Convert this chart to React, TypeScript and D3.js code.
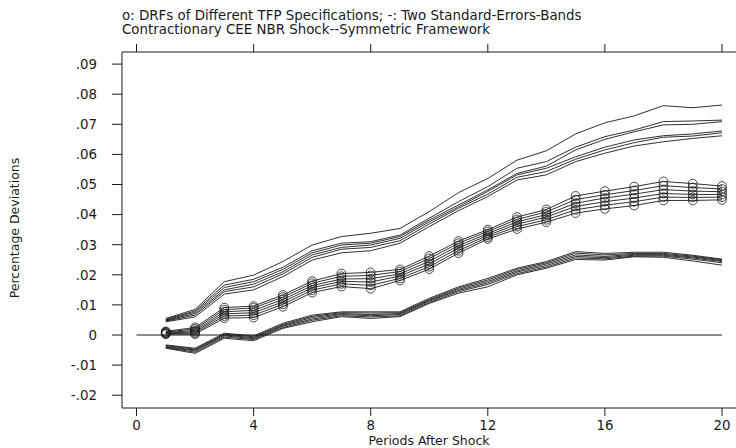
import React from "react";
import * as d3 from "d3";

const periods = [1,2,3,4,5,6,7,8,9,10,11,12,13,14,15,16,17,18,19,20];

const center1 = [0.0012,0.0025,0.0091,0.0096,0.0133,0.0179,0.0204,0.0208,0.0218,0.0262,0.0312,0.0350,0.0392,0.0417,0.0462,0.0478,0.0493,0.0510,0.0503,0.0495];
const center2 = [0.0010,0.0020,0.0084,0.0090,0.0126,0.0172,0.0195,0.0198,0.0211,0.0254,0.0305,0.0344,0.0384,0.0409,0.0450,0.0466,0.0480,0.0496,0.0490,0.0485];
const center3 = [0.0008,0.0015,0.0077,0.0082,0.0118,0.0164,0.0186,0.0187,0.0203,0.0245,0.0297,0.0337,0.0376,0.0400,0.0438,0.0455,0.0468,0.0483,0.0478,0.0476];
const center4 = [0.0006,0.0011,0.0070,0.0074,0.0110,0.0157,0.0178,0.0176,0.0196,0.0236,0.0289,0.0331,0.0368,0.0392,0.0427,0.0443,0.0455,0.0470,0.0467,0.0467];
const center5 = [0.0004,0.0007,0.0063,0.0066,0.0102,0.0149,0.0170,0.0165,0.0188,0.0227,0.0280,0.0325,0.0360,0.0383,0.0416,0.0431,0.0443,0.0458,0.0457,0.0458];
const center6 = [0.0003,0.0003,0.0056,0.0058,0.0094,0.0141,0.0161,0.0154,0.0181,0.0219,0.0272,0.0319,0.0352,0.0375,0.0405,0.0419,0.0430,0.0447,0.0447,0.0449];

const upper1 = [0.0055,0.0085,0.0177,0.0199,0.0244,0.0299,0.0327,0.0338,0.0354,0.0410,0.0473,0.0520,0.0581,0.0612,0.0668,0.0705,0.0728,0.0762,0.0755,0.0764];
const upper2 = [0.0052,0.0080,0.0166,0.0185,0.0225,0.0280,0.0305,0.0310,0.0332,0.0388,0.0443,0.0493,0.0554,0.0576,0.0624,0.0659,0.0681,0.0709,0.0711,0.0714];
const upper3 = [0.0050,0.0076,0.0158,0.0177,0.0218,0.0273,0.0299,0.0305,0.0327,0.0382,0.0432,0.0482,0.0537,0.0561,0.0615,0.0650,0.0675,0.0698,0.0700,0.0709];
const upper4 = [0.0048,0.0071,0.0150,0.0169,0.0210,0.0266,0.0291,0.0299,0.0321,0.0376,0.0426,0.0477,0.0532,0.0554,0.0592,0.0624,0.0648,0.0662,0.0668,0.0678];
const upper5 = [0.0046,0.0066,0.0144,0.0160,0.0203,0.0258,0.0285,0.0291,0.0313,0.0369,0.0421,0.0468,0.0524,0.0543,0.0584,0.0615,0.0639,0.0657,0.0661,0.0672];
const upper6 = [0.0044,0.0060,0.0136,0.0150,0.0194,0.0249,0.0273,0.0280,0.0305,0.0360,0.0413,0.0460,0.0515,0.0532,0.0576,0.0604,0.0628,0.0642,0.0653,0.0662];

const lower1 = [-0.0033,-0.0044,0.0006,-0.0003,0.0039,0.0066,0.0077,0.0077,0.0077,0.0122,0.0160,0.0188,0.0222,0.0244,0.0277,0.0271,0.0275,0.0275,0.0265,0.0252];
const lower2 = [-0.0035,-0.0047,0.0003,-0.0006,0.0035,0.0062,0.0074,0.0073,0.0074,0.0118,0.0156,0.0183,0.0218,0.0240,0.0272,0.0266,0.0271,0.0271,0.0262,0.0250];
const lower3 = [-0.0038,-0.0050,0.0000,-0.0009,0.0032,0.0058,0.0071,0.0068,0.0071,0.0115,0.0152,0.0178,0.0213,0.0236,0.0266,0.0261,0.0268,0.0268,0.0259,0.0247];
const lower4 = [-0.0040,-0.0053,-0.0003,-0.0012,0.0029,0.0053,0.0068,0.0064,0.0068,0.0112,0.0148,0.0173,0.0209,0.0231,0.0261,0.0257,0.0265,0.0265,0.0256,0.0244];
const lower5 = [-0.0042,-0.0057,-0.0007,-0.0015,0.0025,0.0049,0.0064,0.0060,0.0064,0.0108,0.0144,0.0168,0.0204,0.0226,0.0256,0.0253,0.0262,0.0262,0.0252,0.0240];
const lower6 = [-0.0044,-0.0061,-0.0011,-0.0019,0.0022,0.0044,0.0061,0.0055,0.0061,0.0105,0.0139,0.0160,0.0200,0.0222,0.0251,0.0249,0.0260,0.0258,0.0246,0.0232];

const centers = [center1, center2, center3, center4, center5, center6];
const bands = [upper1, upper2, upper3, upper4, upper5, upper6, lower1, lower2, lower3, lower4, lower5, lower6];

const xTicks = [0, 4, 8, 12, 16, 20];
const yTicks = [-0.02, -0.01, 0, 0.01, 0.02, 0.03, 0.04, 0.05, 0.06, 0.07, 0.08, 0.09];
const yTickLabels = ["-.02", "-.01", "0", ".01", ".02", ".03", ".04", ".05", ".06", ".07", ".08", ".09"];

const titleLine1 = "o: DRFs of Different TFP Specifications; -: Two Standard-Errors-Bands";
const titleLine2 = "Contractionary CEE NBR Shock--Symmetric Framework";
const xTitle = "Periods After Shock";
const yTitle = "Percentage Deviations";

export default function App() {
  const W = 736, H = 448;
  const boxL = 122, boxT = 52, boxB = 408;
  const x = d3.scaleLinear().domain([0, 20]).range([136.5, 722]);
  const y = d3.scaleLinear().domain([-0.02, 0.09]).range([395.2, 64.1]);
  const line = d3.line<number>().x((_, i) => x(periods[i])).y((v) => y(v));
  const font = "'DejaVu Sans', Verdana, sans-serif";
  const ink = "#1a1a1a";

  return (
    <svg width={W} height={H} style={{ position: "absolute", left: 0, top: 0, background: "#fff" }} fontFamily={font}>
      <rect x={0} y={0} width={W} height={H} fill="#fff" />
      <text x={122} y={20} fontSize={13.4} fill={ink}>{titleLine1}</text>
      <text x={122} y={33.5} fontSize={13.4} fill={ink}>{titleLine2}</text>

      {/* frame */}
      <line x1={boxL} y1={boxT} x2={W} y2={boxT} stroke={ink} strokeWidth={1} />
      <line x1={boxL} y1={boxB} x2={W} y2={boxB} stroke={ink} strokeWidth={1} />
      <line x1={boxL} y1={boxT} x2={boxL} y2={boxB} stroke={ink} strokeWidth={1} />

      {/* y ticks */}
      {yTicks.map((t, i) => (
        <g key={"y" + i}>
          <line x1={112} x2={boxL} y1={y(t)} y2={y(t)} stroke={ink} strokeWidth={1} />
          <text x={97} y={y(t)} dy="0.36em" textAnchor="end" fontSize={13.4} fill={ink}>{yTickLabels[i]}</text>
        </g>
      ))}

      {/* x ticks bottom and top */}
      {xTicks.map((t) => (
        <g key={"x" + t}>
          <line x1={x(t)} x2={x(t)} y1={boxB} y2={boxB + 8} stroke={ink} strokeWidth={1} />
          <line x1={x(t)} x2={x(t)} y1={boxT} y2={boxT - 8} stroke={ink} strokeWidth={1} />
          <text x={x(t)} y={430} textAnchor="middle" fontSize={13.4} fill={ink}>{String(t)}</text>
        </g>
      ))}

      <text x={(boxL + W) / 2} y={445} textAnchor="middle" fontSize={12.5} fill={ink}>{xTitle}</text>
      <text transform={`translate(19,228) rotate(-90)`} textAnchor="middle" fontSize={12.5} fill={ink}>{yTitle}</text>

      {/* zero line */}
      <line x1={x(0)} x2={x(20)} y1={y(0)} y2={y(0)} stroke={ink} strokeWidth={1} />

      {bands.map((s, i) => (
        <path key={"b" + i} d={line(s) || ""} fill="none" stroke={ink} strokeWidth={0.9} />
      ))}
      {centers.map((s, i) => (
        <g key={"c" + i}>
          <path d={line(s) || ""} fill="none" stroke={ink} strokeWidth={0.9} />
          {s.map((v, j) => (
            <circle key={j} cx={x(periods[j])} cy={y(v)} r={4.4} fill="none" stroke={ink} strokeWidth={0.8} />
          ))}
        </g>
      ))}
    </svg>
  );
}
